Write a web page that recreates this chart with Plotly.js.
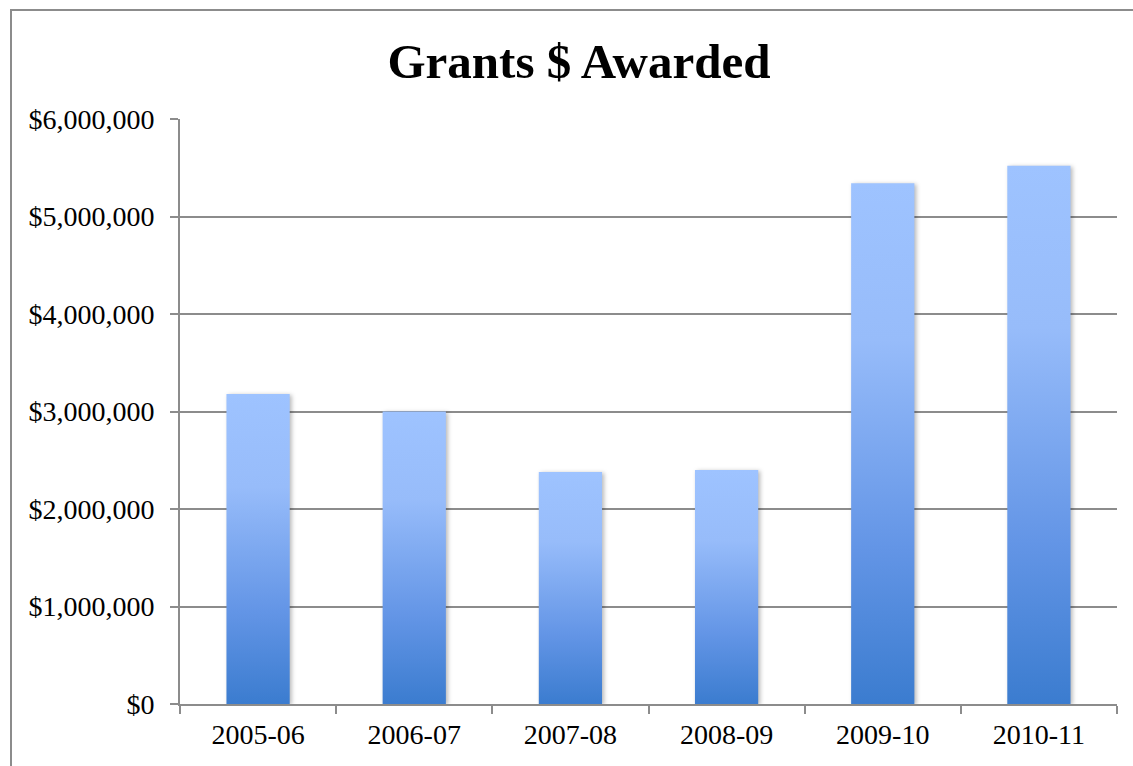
<!DOCTYPE html>
<html>
<head>
<meta charset="utf-8">
<script src="https://cdn.plot.ly/plotly-3.0.1.min.js"></script>
<style>
  html, body { margin: 0; padding: 0; background: #fff; }
  #wrap { position: relative; width: 1133px; height: 766px; overflow: hidden; }
  #chart { width: 1133px; height: 766px; }
  #frame { position: absolute; left: 10px; top: 9px; width: 1200px; height: 800px;
           border-left: 2px solid #8c8c8c; border-top: 2px solid #8c8c8c; pointer-events: none; }
  .barpath { filter: drop-shadow(2px 1px 2px rgba(0,0,0,0.28)); }
</style>
</head>
<body>
<div id="wrap">
  <div id="chart"></div>
  <div id="frame"></div>
</div>
<script>
const categories = ["2005-06", "2006-07", "2007-08", "2008-09", "2009-10", "2010-11"];
const grantsAwarded = [3180000, 3000000, 2380000, 2400000, 5340000, 5520000];
const yTickValues = [0, 1000000, 2000000, 3000000, 4000000, 5000000, 6000000];
const yTickLabels = ["$0", "$1,000,000", "$2,000,000", "$3,000,000", "$4,000,000", "$5,000,000", "$6,000,000"];

const fontFam = "'Liberation Serif', 'Times New Roman', serif";
const gridCol = "#8c8c8c";

const trace = {
  type: "bar",
  x: categories,
  y: grantsAwarded,
  marker: { color: "#6a9fe8", line: { width: 0 } },
  hoverinfo: "x+y"
};

const layout = {
  width: 1133,
  height: 766,
  margin: { l: 180, r: 16, t: 119, b: 62 },
  paper_bgcolor: "#ffffff",
  plot_bgcolor: "#ffffff",
  showlegend: false,
  bargap: 0.595,
  title: {
    text: "<b>Grants $ Awarded</b>",
    font: { family: fontFam, size: 49, color: "#000" },
    xref: "container", x: 0.511, xanchor: "center",
    yref: "container", y: 0.921, yanchor: "middle"
  },
  xaxis: {
    type: "category",
    tickson: "boundaries",
    ticks: "outside",
    ticklen: 8,
    tickwidth: 2,
    tickcolor: gridCol,
    showline: true,
    linecolor: gridCol,
    linewidth: 2,
    showgrid: false,
    tickfont: { family: fontFam, size: 28, color: "#000" },
    ticklabelstandoff: 4,
    fixedrange: true
  },
  yaxis: {
    range: [0, 6000000],
    tickmode: "array",
    tickvals: yTickValues,
    ticktext: yTickLabels,
    ticks: "outside",
    ticklen: 8,
    tickwidth: 2,
    tickcolor: gridCol,
    showline: true,
    linecolor: gridCol,
    linewidth: 2,
    showgrid: true,
    gridcolor: gridCol,
    gridwidth: 2,
    zeroline: false,
    tickfont: { family: fontFam, size: 28, color: "#000" },
    ticklabelstandoff: 10,
    fixedrange: true
  }
};

Plotly.newPlot("chart", [trace], layout, { displayModeBar: false, staticPlot: true }).then(function () {
  const svg = document.querySelector("#chart .main-svg");
  const NS = "http://www.w3.org/2000/svg";
  let defs = svg.querySelector("defs");
  if (!defs) { defs = document.createElementNS(NS, "defs"); svg.insertBefore(defs, svg.firstChild); }
  const grad = document.createElementNS(NS, "linearGradient");
  grad.setAttribute("id", "barGrad");
  grad.setAttribute("x1", "0"); grad.setAttribute("y1", "0");
  grad.setAttribute("x2", "0"); grad.setAttribute("y2", "1");
  [["0", "#9ec3ff"], ["0.3", "#97bcfa"], ["0.7", "#6395e6"], ["1", "#3b7ccf"]].forEach(function (s) {
    const st = document.createElementNS(NS, "stop");
    st.setAttribute("offset", s[0]);
    st.setAttribute("stop-color", s[1]);
    grad.appendChild(st);
  });
  defs.appendChild(grad);
  document.querySelectorAll("#chart .bars .point path").forEach(function (p) {
    p.style.fill = "url(#barGrad)";
    p.classList.add("barpath");
  });
});
</script>
</body>
</html>
